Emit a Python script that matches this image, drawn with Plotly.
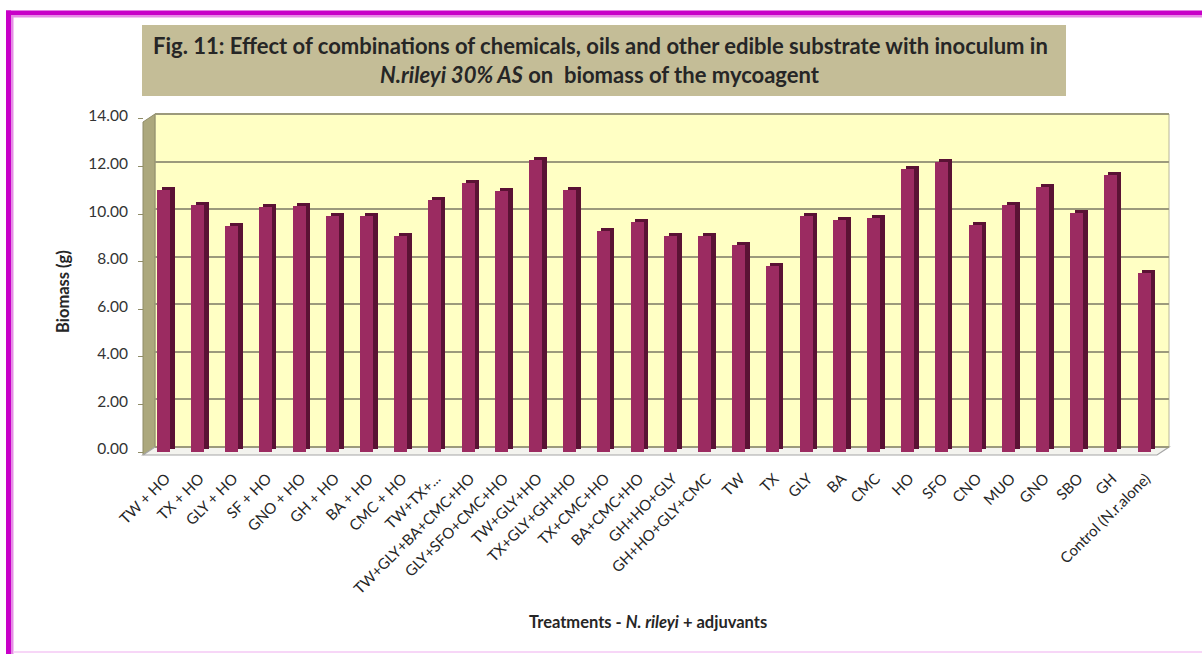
import plotly.graph_objects as go

# Treatments (N. rileyi + adjuvants) and biomass in grams
treatments = [
    "TW + HO", "TX + HO", "GLY + HO", "SF + HO", "GNO + HO", "GH + HO",
    "BA + HO", "CMC + HO", "TW+TX+...", "TW+GLY+BA+CMC+HO", "GLY+SFO+CMC+HO",
    "TW+GLY+HO", "TX+GLY+GH+HO", "TX+CMC+HO", "BA+CMC+HO", "GH+HO+GLY",
    "GH+HO+GLY+CMC", "TW", "TX", "GLY", "BA", "CMC", "HO", "SFO", "CNO",
    "MUO", "GNO", "SBO", "GH", "Control (N.r.alone)",
]
biomass = [
    11.00, 10.40, 9.48, 10.28, 10.32, 9.94, 9.91, 9.10, 10.58, 11.31, 10.98,
    12.28, 11.02, 9.30, 9.66, 9.06, 9.06, 8.71, 7.82, 9.93, 9.74, 9.82,
    11.90, 12.18, 9.53, 10.37, 11.13, 10.03, 11.64, 7.52,
]
y_ticks = [0, 2, 4, 6, 8, 10, 12, 14]
y_tick_text = ["0.00", "2.00", "4.00", "6.00", "8.00", "10.00", "12.00", "14.00"]

W, H = 1202, 654
FONT = "Lato"


def px(x):
    return x / W


def py(y):
    return 1 - y / H


# pixel geometry of the chart box (front/back planes of the 3-D look)
SCALE = 23.79            # pixels per gram
DOM_TOP, DOM_BOT = 108, 458
WALL_L, WALL_R = 155, 1169
FRONT_L, FRONT_R = 143, 1157
BAR_BASE, WALL_BASE = 452, 447
span = (DOM_BOT - DOM_TOP) / SCALE
bar_r0 = -(DOM_BOT - BAR_BASE) / SCALE
grid_r0 = -(DOM_BOT - WALL_BASE) / SCALE
cat_w = (WALL_R - WALL_L) / len(treatments)

front_w = 13 / cat_w
front_off = -14.5 / cat_w
depth_dx = 4.5 / cat_w
depth_dy = 3 / SCALE

fig = go.Figure()

# dark side/top of each column
fig.add_trace(go.Bar(
    x=treatments, y=biomass, base=depth_dy, yaxis="y",
    width=front_w, offset=front_off + depth_dx,
    marker=dict(color="#5a1234", line=dict(width=0)),
    hoverinfo="skip", showlegend=False,
))
# front face of each column
fig.add_trace(go.Bar(
    x=treatments, y=biomass, yaxis="y",
    width=front_w, offset=front_off,
    marker=dict(color="#9b2b61", line=dict(width=0)),
    showlegend=False,
))
# carrier for the back-wall gridlines
fig.add_trace(go.Scatter(
    x=treatments, y=biomass, yaxis="y2", mode="none",
    hoverinfo="skip", showlegend=False,
))

shapes = []
# back wall
shapes.append(dict(type="rect", xref="paper", yref="paper", layer="below",
                   x0=px(WALL_L), x1=px(WALL_R), y0=py(WALL_BASE), y1=py(114),
                   fillcolor="#ffffc4", line=dict(color="#b8b69a", width=1)))
# left side wall
shapes.append(dict(type="path", xref="paper", yref="paper", layer="below",
                   path=f"M {px(FRONT_L)} {py(455)} L {px(FRONT_L)} {py(122)} "
                        f"L {px(WALL_L)} {py(114)} L {px(WALL_L)} {py(WALL_BASE)} Z",
                   fillcolor="#aca87d", line=dict(color="#8f8c68", width=1)))
# floor
shapes.append(dict(type="path", xref="paper", yref="paper", layer="below",
                   path=f"M {px(FRONT_L)} {py(455)} L {px(WALL_L)} {py(WALL_BASE)} "
                        f"L {px(WALL_R)} {py(WALL_BASE)} L {px(FRONT_R)} {py(455)} Z",
                   fillcolor="#f3f3ee", line=dict(color="#a6a6a6", width=1.2)))
# title box
shapes.append(dict(type="rect", xref="paper", yref="paper", layer="below",
                   x0=px(142), x1=px(1066), y0=py(96), y1=py(25),
                   fillcolor="#c4bd97", line=dict(width=0)))
# magenta page frame
shapes.append(dict(type="rect", xref="paper", yref="paper", layer="above",
                   x0=px(6), x1=px(1202), y0=py(15), y1=py(10.5),
                   fillcolor="#c800c8", line=dict(width=0)))
shapes.append(dict(type="rect", xref="paper", yref="paper", layer="above",
                   x0=px(11), x1=px(1202), y0=py(17.5), y1=py(15),
                   fillcolor="#e68ae6", line=dict(width=0)))
shapes.append(dict(type="rect", xref="paper", yref="paper", layer="above",
                   x0=px(6), x1=px(11), y0=py(654), y1=py(10.5),
                   fillcolor="#c800c8", line=dict(width=0)))
shapes.append(dict(type="rect", xref="paper", yref="paper", layer="above",
                   x0=px(11), x1=px(13.5), y0=py(654), y1=py(15),
                   fillcolor="#e68ae6", line=dict(width=0)))
shapes.append(dict(type="line", xref="paper", yref="paper", layer="above",
                   x0=px(13), x1=px(1202), y0=py(652), y1=py(652),
                   line=dict(color="#f4c8f4", width=1.5)))

annotations = [
    dict(text="<b>Fig. 11: Effect of combinations of chemicals, oils and other edible "
              "substrate with inoculum in</b>",
         x=px(600), y=py(46), xref="paper", yref="paper", showarrow=False,
         xanchor="center", yanchor="middle",
         font=dict(family=FONT, size=22, color="#262626")),
    dict(text="<b><i>N.rileyi 30% AS</i> on  biomass of the mycoagent</b>",
         x=px(600), y=py(74), xref="paper", yref="paper", showarrow=False,
         xanchor="center", yanchor="middle",
         font=dict(family=FONT, size=22, color="#262626")),
    dict(text="<b>Biomass (g)</b>", textangle=-90,
         x=px(63), y=py(292), xref="paper", yref="paper", showarrow=False,
         xanchor="center", yanchor="middle",
         font=dict(family=FONT, size=16.5, color="#262626")),
    dict(text="<b>Treatments - <i>N. rileyi</i> + adjuvants</b>",
         x=px(648), y=py(622), xref="paper", yref="paper", showarrow=False,
         xanchor="center", yanchor="middle",
         font=dict(family=FONT, size=16.5, color="#262626")),
]

fig.update_layout(
    width=W, height=H,
    margin=dict(l=0, r=0, t=0, b=0),
    paper_bgcolor="white", plot_bgcolor="rgba(0,0,0,0)",
    barmode="overlay", bargap=0,
    showlegend=False,
    shapes=shapes, annotations=annotations,
    xaxis=dict(
        type="category", domain=[px(WALL_L), px(WALL_R)],
        range=[-0.5, len(treatments) - 0.5],
        showgrid=False, zeroline=False, showline=False, ticks="",
        tickangle=-45, ticklabelstandoff=8, ticklabelshift=-6,
        tickfont=dict(family=FONT, size=15, color="#262626"),
        automargin=False, fixedrange=True,
    ),
    yaxis=dict(
        domain=[py(DOM_BOT), py(DOM_TOP)],
        range=[bar_r0, bar_r0 + span],
        anchor="free", position=px(FRONT_L), side="left",
        tickvals=y_ticks, ticktext=y_tick_text,
        ticks="outside", ticklen=5, tickcolor="#8f8c68", tickwidth=1,
        ticklabelshift=-3, ticklabelstandoff=7,
        showgrid=False, zeroline=False, showline=False,
        tickfont=dict(family=FONT, size=15.5, color="#333333"),
        automargin=False, fixedrange=True,
    ),
    yaxis2=dict(
        overlaying="y", anchor="x", side="left",
        range=[grid_r0, grid_r0 + span],
        tickvals=y_ticks, showticklabels=False, ticks="",
        showgrid=True, gridcolor="#9c9a7c", gridwidth=1.5,
        zeroline=False, showline=False,
        automargin=False, fixedrange=True,
    ),
)

fig.write_html("out.html")
